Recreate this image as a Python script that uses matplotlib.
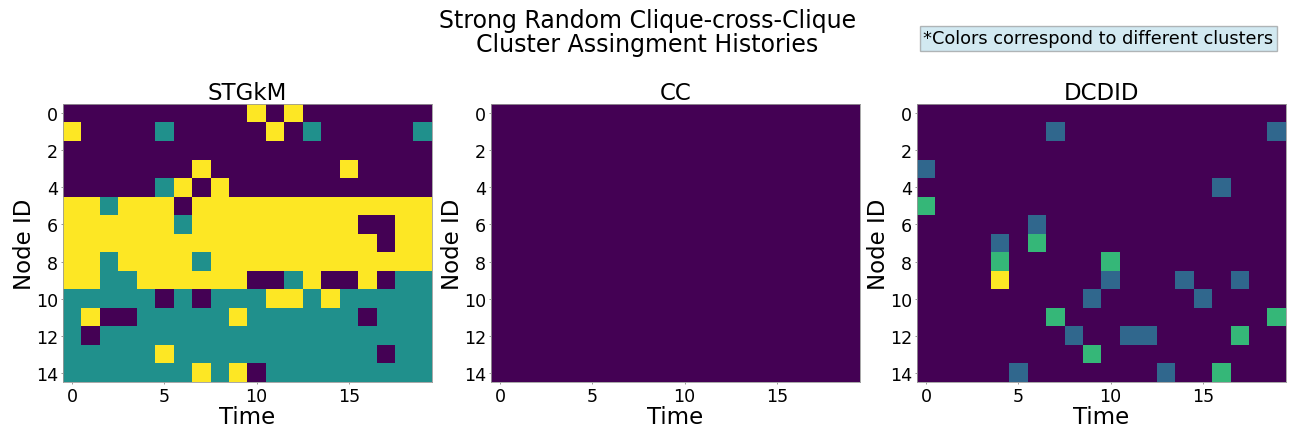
import numpy as np
import matplotlib
matplotlib.use("Agg")
import matplotlib.pyplot as plt

n_nodes = 15
n_times = 20

# STGkM: 0 = purple, 1 = teal, 2 = yellow
stgkm = [
    [0,0,0,0,0,0,0,0,0,0,2,0,2,0,0,0,0,0,0,0],
    [2,0,0,0,0,1,0,0,0,0,0,2,0,1,0,0,0,0,0,1],
    [0,0,0,0,0,0,0,0,0,0,0,0,0,0,0,0,0,0,0,0],
    [0,0,0,0,0,0,0,2,0,0,0,0,0,0,0,2,0,0,0,0],
    [0,0,0,0,0,1,2,0,2,0,0,0,0,0,0,0,0,0,0,0],
    [2,2,1,2,2,2,0,2,2,2,2,2,2,2,2,2,2,2,2,2],
    [2,2,2,2,2,2,1,2,2,2,2,2,2,2,2,2,0,0,2,2],
    [2,2,2,2,2,2,2,2,2,2,2,2,2,2,2,2,2,0,2,2],
    [2,2,1,2,2,2,2,1,2,2,2,2,2,2,2,2,2,2,2,2],
    [2,2,1,1,2,2,2,2,2,2,0,0,1,2,0,0,2,0,1,1],
    [1,1,1,1,1,0,1,0,1,1,1,2,2,1,2,1,1,1,1,1],
    [1,2,0,0,1,1,1,1,1,2,1,1,1,1,1,1,0,1,1,1],
    [1,0,1,1,1,1,1,1,1,1,1,1,1,1,1,1,1,1,1,1],
    [1,1,1,1,1,2,1,1,1,1,1,1,1,1,1,1,1,0,1,1],
    [1,1,1,1,1,1,1,2,1,2,0,1,1,1,1,1,1,1,1,1],
]

# CC: every node in one cluster
cc = [[0] * n_times for _ in range(n_nodes)]

# DCDID: 0 = purple, 1 = blue, 2 = green, 3 = yellow
dcdid = [
    [0,0,0,0,0,0,0,0,0,0,0,0,0,0,0,0,0,0,0,0],
    [0,0,0,0,0,0,0,1,0,0,0,0,0,0,0,0,0,0,0,1],
    [0,0,0,0,0,0,0,0,0,0,0,0,0,0,0,0,0,0,0,0],
    [1,0,0,0,0,0,0,0,0,0,0,0,0,0,0,0,0,0,0,0],
    [0,0,0,0,0,0,0,0,0,0,0,0,0,0,0,0,1,0,0,0],
    [2,0,0,0,0,0,0,0,0,0,0,0,0,0,0,0,0,0,0,0],
    [0,0,0,0,0,0,1,0,0,0,0,0,0,0,0,0,0,0,0,0],
    [0,0,0,0,1,0,2,0,0,0,0,0,0,0,0,0,0,0,0,0],
    [0,0,0,0,2,0,0,0,0,0,2,0,0,0,0,0,0,0,0,0],
    [0,0,0,0,3,0,0,0,0,0,1,0,0,0,1,0,0,1,0,0],
    [0,0,0,0,0,0,0,0,0,1,0,0,0,0,0,1,0,0,0,0],
    [0,0,0,0,0,0,0,2,0,0,0,0,0,0,0,0,0,0,0,2],
    [0,0,0,0,0,0,0,0,1,0,0,1,1,0,0,0,0,2,0,0],
    [0,0,0,0,0,0,0,0,0,2,0,0,0,0,0,0,0,0,0,0],
    [0,0,0,0,0,1,0,0,0,0,0,0,0,1,0,0,2,0,0,0],
]

panel_titles = ["STGkM", "CC", "DCDID"]
panel_data = [stgkm, cc, dcdid]
y_ticks = [0, 2, 4, 6, 8, 10, 12, 14]
x_ticks = [0, 5, 10, 15]

fig = plt.figure(figsize=(12.92, 4.31), dpi=100)
lefts = [63 / 1292, 491 / 1292, 917 / 1292]
width = 369 / 1292
bottom = 48 / 431
height = 278 / 431

for left, title, data in zip(lefts, panel_titles, panel_data):
    ax = fig.add_axes([left, bottom, width, height])
    arr = np.array(data)
    vmax = arr.max() if arr.max() > 0 else 1
    ax.imshow(arr, cmap="viridis", aspect="auto", interpolation="nearest",
              vmin=0, vmax=vmax)
    ax.set_title(title, fontsize=16.5, pad=2)
    ax.set_xlabel("Time", fontsize=16.5, labelpad=0)
    ax.set_ylabel("Node ID", fontsize=16.5, labelpad=0)
    ax.set_yticks(y_ticks)
    ax.set_xticks(x_ticks)
    ax.tick_params(labelsize=12.6, length=1.6, width=0.6, pad=2,
                   color="#888888")
    for s in ax.spines.values():
        s.set_edgecolor("#999999")
        s.set_linewidth(0.6)

fig.suptitle("Strong Random Clique-cross-Clique\nCluster Assingment Histories",
             fontsize=17, x=0.501, y=0.978, linespacing=1.0)
fig.text(0.85, 0.909, "*Colors correspond to different clusters",
         fontsize=12.8, ha="center", va="center",
         bbox=dict(boxstyle="square,pad=0.2", facecolor="lightblue",
                   alpha=0.55, edgecolor="gray"))

fig.savefig("out.png", dpi=100)
